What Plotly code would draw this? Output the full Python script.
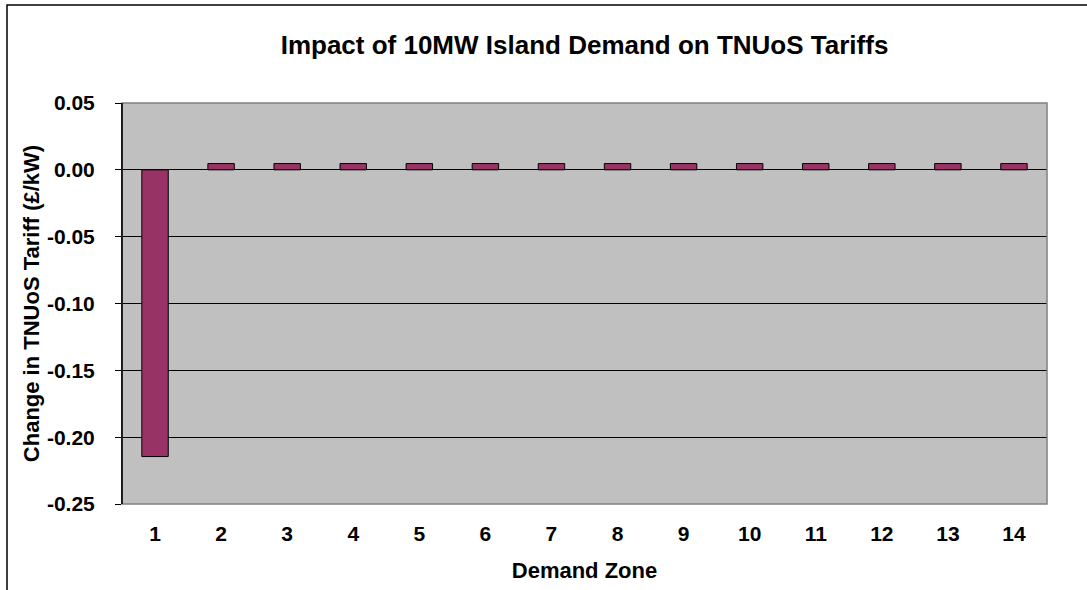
import plotly.graph_objects as go

zones = list(range(1, 15))
tariff_change = [-0.2145, 0.0047, 0.0047, 0.0047, 0.0047, 0.0047, 0.0047,
                 0.0047, 0.0047, 0.0047, 0.0047, 0.0047, 0.0047, 0.0047]
y_ticks = [-0.25, -0.20, -0.15, -0.10, -0.05, 0.00, 0.05]
y_tick_labels = ["-0.25", "-0.20", "-0.15", "-0.10", "-0.05", "0.00", "0.05"]

title_text = "Impact of 10MW Island Demand on TNUoS Tariffs"
x_title = "Demand Zone"
y_title = "Change in TNUoS Tariff (£/kW)"

FONT = "Liberation Sans, Arial, sans-serif"
y_range = [-0.25, 0.05]
x_range = [0.5, 14.5]
zero_pos = (0 - y_range[0]) / (y_range[1] - y_range[0])

W, H = 1087, 590
L, R, T, B = 122, 40, 103, 86
pw, ph = W - L - R, H - T - B

fig = go.Figure()
fig.add_trace(go.Bar(
    x=zones, y=tariff_change,
    marker=dict(color="#993366", line=dict(color="black", width=1)),
    width=0.4,
))

fig.update_layout(
    width=W, height=H,
    margin=dict(l=L, r=R, t=T, b=B),
    paper_bgcolor="white",
    plot_bgcolor="#C0C0C0",
    showlegend=False,
    font=dict(family=FONT, color="black"),
    title=dict(text="<b>" + title_text + "</b>", x=0.5, xref="paper",
               xanchor="center", y=1 - 45 / H, yref="container",
               yanchor="middle", font=dict(size=26, family=FONT)),
    xaxis=dict(
        range=x_range, tickvals=zones, ticktext=["<b>%d</b>" % z for z in zones],
        showgrid=False, zeroline=False, showline=False, ticks="",
        tickfont=dict(size=21, family=FONT), ticklabelstandoff=15,
        title=dict(text="<b>" + x_title + "</b>", font=dict(size=22, family=FONT),
                   standoff=18),
    ),
    xaxis2=dict(
        overlaying="x", anchor="free", position=zero_pos, side="bottom",
        range=x_range, tick0=0.5, dtick=1, tickmode="linear",
        showticklabels=False, ticks="outside", ticklen=5, tickcolor="black",
        showline=True, linecolor="black", linewidth=1,
        showgrid=False, zeroline=False,
    ),
    yaxis=dict(
        range=y_range, tickvals=y_ticks,
        ticktext=["<b>%s</b>" % t for t in y_tick_labels],
        showgrid=True, gridcolor="black", gridwidth=1,
        zeroline=False, showline=True, linecolor="black", linewidth=1,
        ticks="outside", ticklen=6, tickcolor="black",
        tickfont=dict(size=21, family=FONT), ticklabelstandoff=16,
        title=dict(text="<b>" + y_title + "</b>", font=dict(size=22, family=FONT),
                   standoff=1),
    ),
    shapes=[
        dict(type="rect", xref="paper", yref="paper", x0=0, x1=1, y0=0, y1=1,
             line=dict(color="#808080", width=1.5), layer="above"),
        dict(type="line", xref="paper", yref="paper", x0=0, x1=0, y0=0, y1=1,
             line=dict(color="black", width=1.5), layer="above"),
        dict(type="rect", xref="paper", yref="paper",
             x0=(7 - L) / pw, x1=(W + 10 - L) / pw,
             y0=-0.3, y1=(H - B - 5) / ph,
             line=dict(color="black", width=1.5), layer="below"),
    ],
)

fig.write_html("out.html", config={"displayModeBar": False},
               post_script="document.body.style.margin='0';")
